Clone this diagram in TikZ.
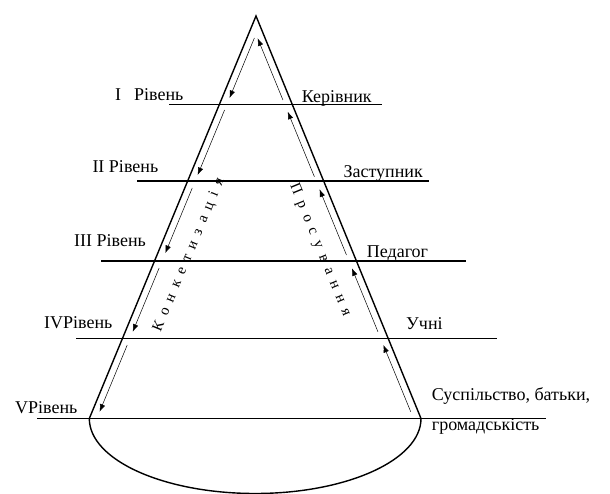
\documentclass[tikz,border=0pt]{standalone}
\usepackage{fontspec}
\setmainfont{Liberation Serif}
\usetikzlibrary{calc,arrows.meta}
\begin{document}
\begin{tikzpicture}[x=1pt,y=-1pt,
  lab/.style={font=\fontsize{18}{21}\selectfont, inner sep=0pt, anchor=base west},
  side/.style={line width=1.4pt},
  lvl/.style={line width=1.3pt},
  flow/.style={line width=0.5pt, -{Latex[length=7.5pt,width=5.5pt]}},
  rot/.style={font=\fontsize{15}{18}\selectfont, inner sep=0pt}]
\useasboundingbox (0,0) rectangle (610,494);
\coordinate (A) at (256,16);
\coordinate (L) at (89.3,418.5);
\coordinate (R) at (421,418.5);
\draw[side] (L) -- (A) -- (R);
\draw[side] (L) arc[start angle=180,end angle=0,x radius=165.85,y radius=75];
\foreach \n/\y/\xa/\xb in {1/104.5/169/382, 2/181/137/428.5, 3/261/101/466, 4/338.5/76/497, 5/418.5/37/546}{
  \coordinate (l\n a) at (\xa,\y);
  \coordinate (l\n b) at (\xb,\y);
  \draw[lvl] (l\n a) -- (l\n b);
}
\foreach \a/\b in {38/98,110/175,188/253,268/331.7,345/411.7}{
  \draw[flow] ($(A)!{(\a-16)/402.5}!(L)+(7.5,0)$) -- ($(A)!{(\b-16)/402.5}!(L)+(7.5,0)$);
}
\foreach \a/\b in {100/38.3,176.7/111.7,255/189.3,331.7/268.3,411.7/345}{
  \draw[flow] ($(A)!{(\a-16)/402.5}!(R)+(-7.5,0)$) -- ($(A)!{(\b-16)/402.5}!(R)+(-7.5,0)$);
}
\node[lab] (t1) at (115,100.7) {I\hspace{13pt}Рівень};
\node[lab] (t2) at (92.3,172.7) {II Рівень};
\node[lab] (t3) at (74,246.7) {III Рівень};
\node[lab] (t4) at (44,328.3) {IVРівень};
\node[lab] (t5) at (15,413.3) {VРівень};
\node[lab] (k1) at (301.7,102.7) {Керівник};
\node[lab] (k2) at (343.3,177.3) {Заступник};
\node[lab] (k3) at (366.7,257.3) {Педагог};
\node[lab] (k4) at (406,329) {Учні};
\node[lab] (k5) at (431.7,400) {Суспільство, батьки,};
\node[lab] (k6) at (431.7,430) {громадськість};
\node[rot, rotate=67.4] (conc) at (189,255) {\spaceskip=7.2pt\relax К о н к е т и з а ц і я};
\node[rot, rotate=-67.7] (pros) at (320,250) {\spaceskip=7.2pt\relax П р о с у в а н н я};
\end{tikzpicture}
\end{document}
